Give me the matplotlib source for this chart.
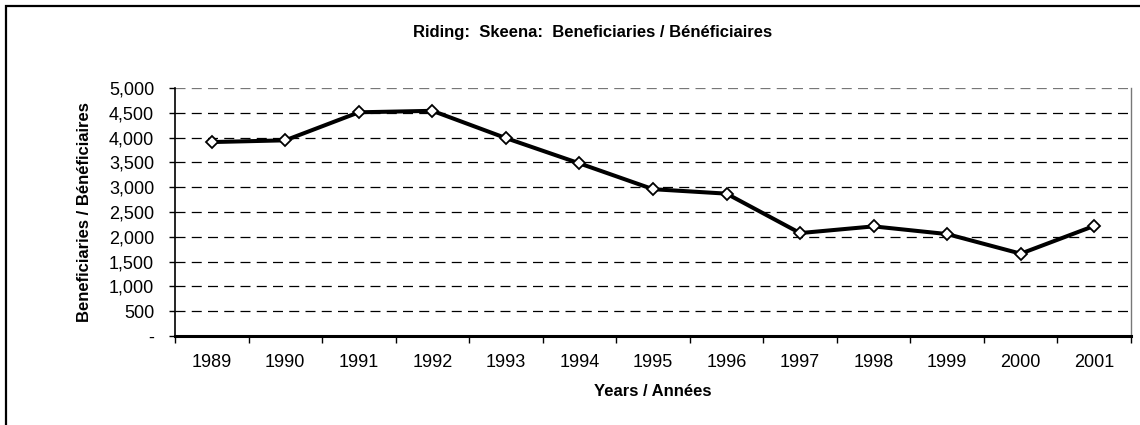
import matplotlib.pyplot as plt
from matplotlib.patches import Rectangle
from matplotlib.ticker import FuncFormatter, FixedLocator

years = ["1989", "1990", "1991", "1992", "1993", "1994", "1995",
         "1996", "1997", "1998", "1999", "2000", "2001"]
beneficiaries = [3910, 3945, 4510, 4540, 3990, 3480, 2960,
                 2870, 2075, 2210, 2055, 1660, 2220]

plt.rcParams["font.family"] = ["Liberation Sans", "DejaVu Sans"]

fig = plt.figure(figsize=(11.4, 4.25), dpi=100)
ax = fig.add_axes([175 / 1140, 1 - 336 / 425, 956 / 1140, 248 / 425])

# outer frame (right and bottom edges fall outside the picture)
fig.patches.append(Rectangle((6 / 1140, -0.1), 1.2, (1 - 6 / 425) + 0.1,
                             transform=fig.transFigure, fill=False,
                             edgecolor="black", linewidth=1.6))

x = range(len(years))
ax.plot(x, beneficiaries, color="black", linewidth=2.9,
        marker="D", markersize=6.5, markerfacecolor="white",
        markeredgecolor="black", markeredgewidth=1.3, zorder=3)

ax.set_xlim(-0.5, len(years) - 0.5)
ax.set_ylim(0, 5000)
ax.set_yticks(range(0, 5001, 500))
ax.yaxis.set_major_formatter(
    FuncFormatter(lambda v, p: "-" if v == 0 else f"{int(v):,}"))
ax.set_xticks(list(x))
ax.set_xticklabels(years)
ax.xaxis.set_minor_locator(FixedLocator([i - 0.5 for i in range(len(years) + 1)]))
ax.tick_params(axis="x", which="major", length=0, pad=13, labelsize=13)
ax.tick_params(axis="x", which="minor", length=5, width=1, direction="out")
ax.tick_params(axis="y", length=4, width=1, pad=11, labelsize=13)

for v in range(500, 5001, 500):
    ax.axhline(v, color="black" if v < 5000 else "#777777",
               linewidth=0.9, linestyle=(0, (8, 5)), zorder=1)

ax.spines["left"].set_linewidth(1.2)
ax.spines["bottom"].set_linewidth(2.2)
ax.spines["top"].set_visible(False)
ax.spines["right"].set_color("#777777")
ax.spines["right"].set_linewidth(1.0)

fig.text(593 / 1140, 1 - 36.7 / 425,
         "Riding:  Skeena:  Beneficiaries / Bénéficiaires",
         fontsize=12, fontweight="bold", ha="center", va="baseline")
ax.set_ylabel("Beneficiaries / Bénéficiaires", fontsize=12,
              fontweight="bold", labelpad=12)
ax.set_xlabel("Years / Années", fontsize=12, fontweight="bold", labelpad=9)

plt.savefig("out.png", dpi=100)
